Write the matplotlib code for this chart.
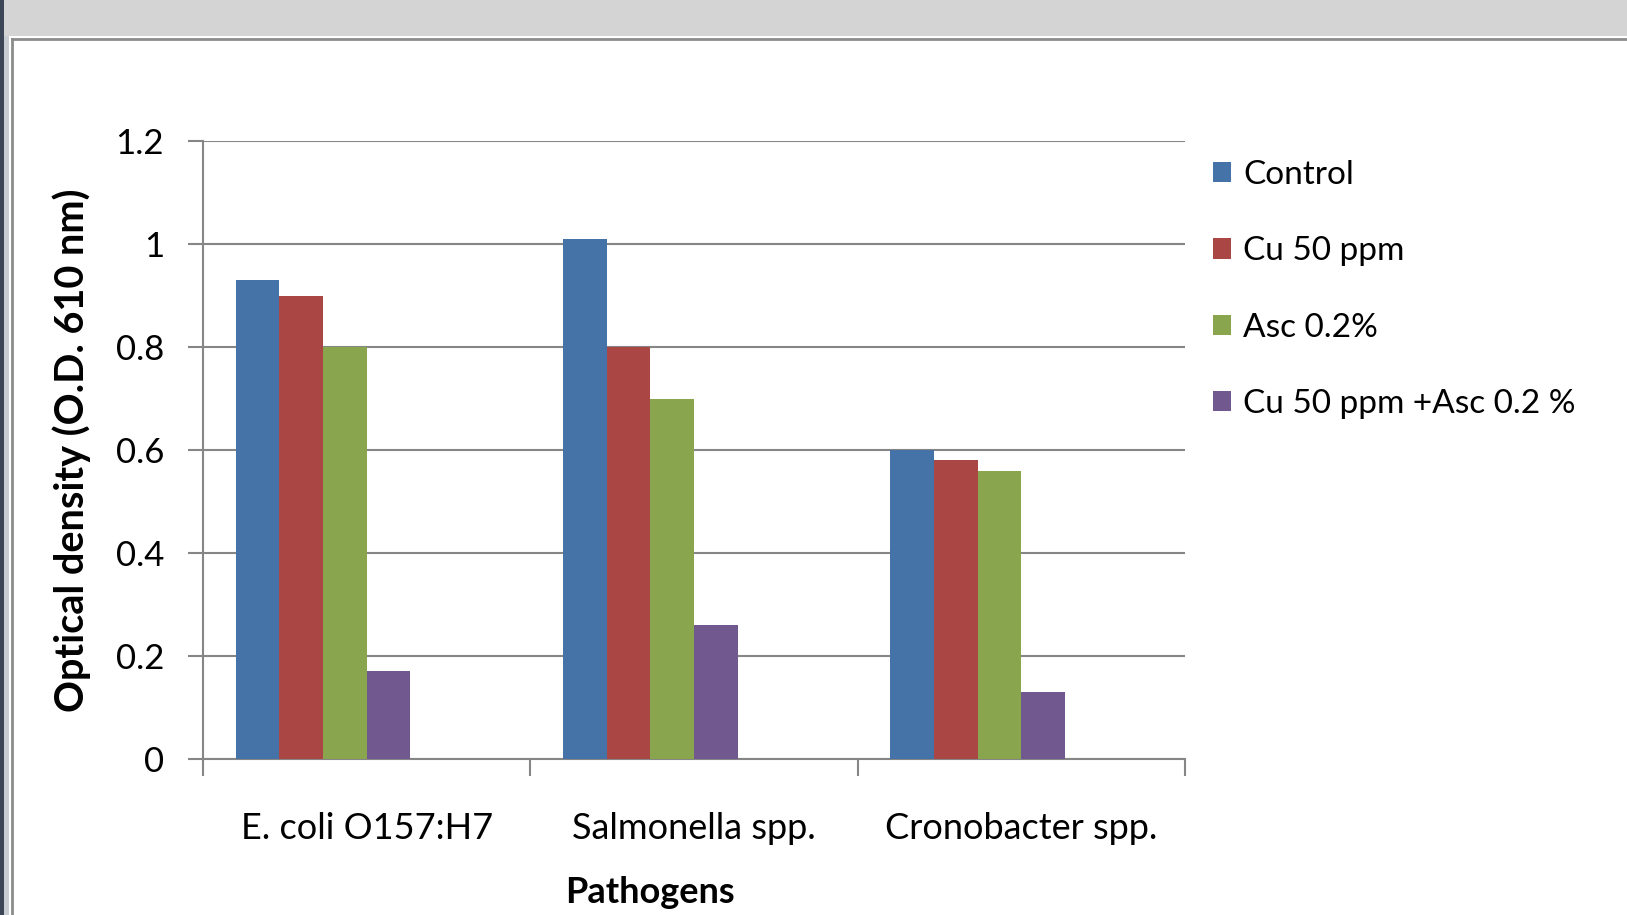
import numpy as np
import matplotlib
matplotlib.use("Agg")
import matplotlib.pyplot as plt
from matplotlib.patches import Rectangle, Patch
from matplotlib.lines import Line2D

# === Données ===
pathogens = ["E. coli O157:H7", "Salmonella spp.", "Cronobacter spp."]
series = ["Control", "Cu 50 ppm", "Asc 0.2%", "Cu 50 ppm +Asc 0.2 %"]
control = [0.93, 1.01, 0.60]
cu50 = [0.90, 0.80, 0.58]
asc02 = [0.80, 0.70, 0.56]
cu_asc = [0.17, 0.26, 0.13]
yticks = [0, 0.2, 0.4, 0.6, 0.8, 1, 1.2]

colors = ["#4572A7", "#AA4643", "#89A54E", "#71588F"]
values = [control, cu50, asc02, cu_asc]

plt.rcParams['font.family'] = ['Lato', 'DejaVu Sans']

fig = plt.figure(figsize=(16.27, 9.15), dpi=100)

# === Cadre (fenêtre) ===
H, W = 915, 1627
fig.patches.append(Rectangle((0, 1 - 36 / H), 1, 36 / H, transform=fig.transFigure,
                             facecolor="#D4D4D4", edgecolor="none", zorder=0))
fig.lines.append(Line2D([12 / W, 1], [1 - 39 / H] * 2, transform=fig.transFigure,
                        color="#8C8C8C", lw=2))
fig.lines.append(Line2D([12 / W] * 2, [0, 1 - 39 / H], transform=fig.transFigure,
                        color="#8C8C8C", lw=2))
fig.patches.append(Rectangle((0, 0), 4 / W, 1, transform=fig.transFigure,
                             facecolor="#3C4656", edgecolor="none"))
fig.patches.append(Rectangle((4 / W, 0), 5 / W, 1 - 36 / H, transform=fig.transFigure,
                             facecolor="#C8CDD4", edgecolor="none"))

ax = fig.add_axes([203 / W, 1 - 759 / H, (1185 - 203) / W, (759 - 141) / H])

# 6 emplacements par groupe (style Excel), 4 utilisés
n_slots = 6
gap = 1.5
w = 1.0 / (n_slots + gap)
x = np.arange(len(pathogens))
for i, (vals, c, lab) in enumerate(zip(values, colors, series)):
    ax.bar(x - 0.5 + gap * w / 2 + i * w, vals, width=w, align="edge",
           color=c, label=lab, zorder=3)

ax.set_xlim(-0.5, len(pathogens) - 0.5)
ax.set_ylim(0, 1.2)
ax.set_yticks(yticks)
ax.set_yticklabels([f"{v:g}" for v in yticks])
ax.yaxis.grid(True, color="#868686", lw=1.5, zorder=0)
ax.set_xticks(x)
ax.set_xticklabels(pathogens)
ax.set_xticks(np.arange(len(pathogens) + 1) - 0.5, minor=True)
ax.tick_params(axis="x", which="major", length=0, pad=38, labelsize=26)
ax.tick_params(axis="x", which="minor", length=12, width=1.5, color="#868686", direction="out")
ax.tick_params(axis="y", length=11, width=1.5, color="#868686", pad=17, labelsize=25)

for s in ["top", "right"]:
    ax.spines[s].set_visible(False)
for s in ["left", "bottom"]:
    ax.spines[s].set_color("#868686")
    ax.spines[s].set_linewidth(1.5)

ax.set_ylabel("Optical density (O.D. 610 nm)", fontsize=28.5, fontweight="bold", labelpad=18)
ax.set_xlabel("Pathogens", fontsize=26, fontweight="bold")
ax.xaxis.set_label_coords(0.455, -0.19)

handles = [Patch(facecolor=c, label=l) for c, l in zip(colors, series)]
fig.legend(handles=handles, loc="upper left", bbox_to_anchor=(1213 / W, 1 - 160 / H),
           frameon=False, fontsize=24, labelspacing=1.39, handlelength=0.55,
           handleheight=0.55, handletextpad=0.35, borderpad=0, borderaxespad=0)

fig.savefig("out.png", dpi=100)
